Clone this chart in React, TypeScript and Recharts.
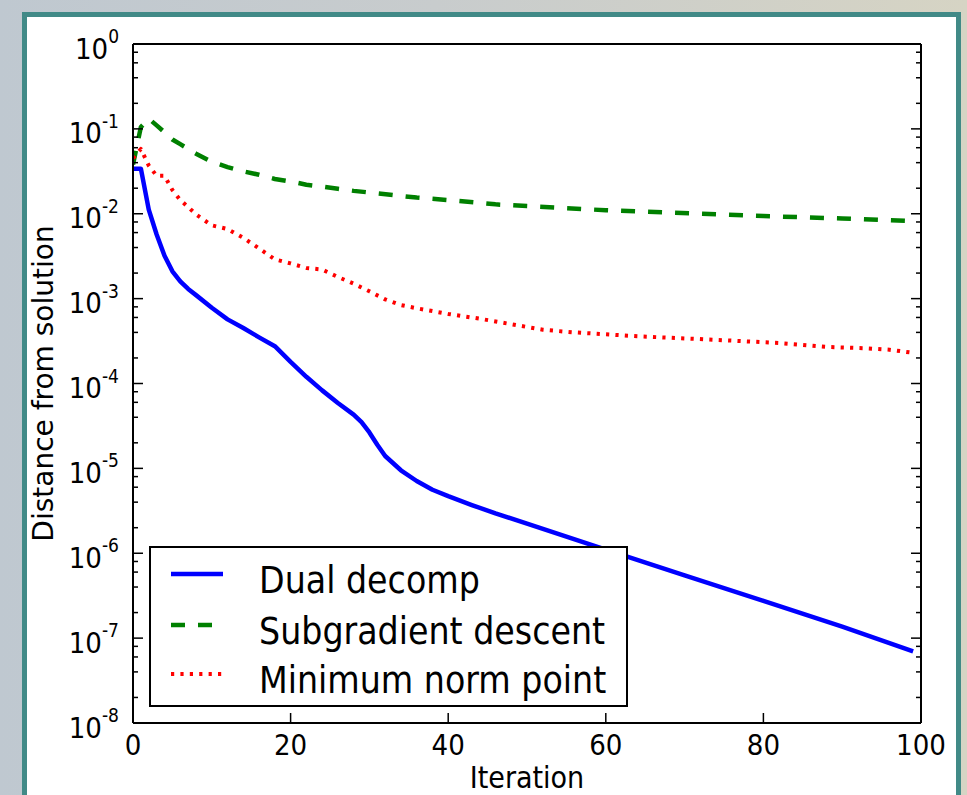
import { LineChart, Line, XAxis, YAxis, Legend, Label } from "recharts";

// Dual decomposition
const dualIter = [0, 1, 2, 3, 4, 5, 6, 7, 8, 10, 12, 14, 16, 18, 20, 22, 24, 26, 28, 29, 30, 31, 32, 34, 36, 38, 40, 43, 46, 50, 60, 70, 80, 90, 99];
const dualDist = [
  0.034, 0.034, 0.0112, 0.0057, 0.0032, 0.0021, 0.0016, 0.0013, 0.0011, 0.00078, 0.00057, 0.00045, 0.00035, 0.000275, 0.00018,
  0.00012, 0.000083, 0.000059, 0.000043, 0.000035, 0.0000265, 0.000019, 0.000014, 0.0000095, 0.0000071, 0.0000056, 0.0000047,
  0.0000037, 0.00000295, 0.00000224, 0.0000011, 0.00000055, 0.000000275, 0.000000137, 0.00000007,
];

// Subgradient descent
const subIter = [0, 1, 2, 3, 4, 5, 6, 7, 8, 10, 12, 14, 16, 18, 20, 22, 24, 26, 28, 30, 33, 36, 40, 46, 50, 60, 72, 80, 90, 99];
const subDist = [
  0.038, 0.105, 0.132, 0.11, 0.091, 0.075, 0.066, 0.058, 0.051, 0.041, 0.0355, 0.0316, 0.0288, 0.0257, 0.024, 0.022, 0.0209,
  0.0197, 0.0186, 0.0178, 0.0166, 0.0155, 0.0145, 0.0129, 0.0123, 0.011, 0.01, 0.0094, 0.0088, 0.0082,
];

// Minimum norm point
const mnpIter = [0, 1, 2, 3, 4, 5, 6, 7, 8, 10, 12, 14, 16, 18, 20, 22, 24, 26, 28, 30, 32, 34, 36, 40, 44, 48, 52, 56, 60, 64, 70, 76, 82, 88, 93, 96, 99];
const mnpDist = [
  0.045, 0.058, 0.037, 0.028, 0.028, 0.019, 0.0145, 0.012, 0.0098, 0.0073, 0.0066, 0.0052, 0.0039, 0.0029, 0.0026, 0.0023, 0.0022,
  0.0018, 0.0015, 0.00122, 0.00098, 0.00084, 0.00077, 0.00066, 0.00058, 0.0005, 0.00043, 0.0004, 0.00038, 0.00036, 0.00034,
  0.00032, 0.0003, 0.00027, 0.00026, 0.00025, 0.00023,
];

const xTicks = [0, 20, 40, 60, 80, 100];
const yMajor = [1e-8, 1e-7, 1e-6, 1e-5, 1e-4, 1e-3, 1e-2, 1e-1, 1];
const yMinorSubs = [2, 4, 6, 8];

const toRows = (it: number[], d: number[]) => it.map((x, i) => ({ it: x, v: d[i] }));

const SERIES = [
  { name: "Dual decomp", data: toRows(dualIter, dualDist), color: "#0000ff", width: 4.5, dash: undefined as string | undefined },
  { name: "Subgradient descent", data: toRows(subIter, subDist), color: "#008000", width: 4.5, dash: "14 13" },
  { name: "Minimum norm point", data: toRows(mnpIter, mnpDist), color: "#ff0000", width: 4, dash: "3.2 6.2" },
];

const yTicks = [
  ...yMajor,
  ...yMajor.slice(0, -1).flatMap((m) => yMinorSubs.map((s) => s * m)),
].sort((a, b) => a - b);

const W = 967;
const H = 795;
const PLOT_LEFT = 133;
const PLOT_RIGHT = 921;
const PLOT_TOP = 44;
const PLOT_BOTTOM = 723;

const TICK_FONT = '"DejaVu Sans Condensed", "DejaVu Sans", sans-serif';

const isMajor = (v: number) => {
  const l = Math.log10(v);
  return Math.abs(l - Math.round(l)) < 1e-6;
};

function LeftTick({ y, payload }: any) {
  const v = payload.value;
  const major = isMajor(v);
  return (
    <g>
      <line x1={PLOT_LEFT} x2={PLOT_LEFT + (major ? 10 : 5)} y1={y} y2={y} stroke="#000" strokeWidth={1.5} />
      {major && (
        <text x={119} y={y + 14.5} textAnchor="end" fill="#000" fontFamily={TICK_FONT} fontSize={29}>
          <tspan>10</tspan>
          <tspan dy={-15.5} fontSize={19}>
            {String(Math.round(Math.log10(v)))}
          </tspan>
        </text>
      )}
    </g>
  );
}

function RightTick({ y, payload }: any) {
  const major = isMajor(payload.value);
  return <line x1={PLOT_RIGHT} x2={PLOT_RIGHT - (major ? 10 : 5)} y1={y} y2={y} stroke="#000" strokeWidth={1.5} />;
}

function BottomTick({ x, payload }: any) {
  return (
    <g>
      <line x1={x} x2={x} y1={PLOT_BOTTOM} y2={PLOT_BOTTOM - 10} stroke="#000" strokeWidth={1.5} />
      <text x={x} y={PLOT_BOTTOM + 32} textAnchor="middle" fill="#000" fontFamily={TICK_FONT} fontSize={29}>
        {payload.value}
      </text>
    </g>
  );
}

function TopTick({ x }: any) {
  return <line x1={x} x2={x} y1={PLOT_TOP} y2={PLOT_TOP + 10} stroke="#000" strokeWidth={1.5} />;
}

// legend keeps the plotting order, not alphabetical
function LegendBox() {
  const rows = [28, 79, 128];
  return (
    <svg width={479} height={161} style={{ display: "block" }}>
      <rect x={1} y={1} width={477} height={159} fill="#fff" stroke="#000" strokeWidth={2} />
      {SERIES.map((s, i) => {
        const ly = rows[i];
        return (
          <g key={s.name}>
            <line x1={22} x2={74} y1={ly} y2={ly} stroke={s.color} strokeWidth={s.width} strokeDasharray={s.dash} />
            <text x={110} y={ly + 18.5} fill="#000" fontFamily={TICK_FONT} fontSize={37}>
              {s.name}
            </text>
          </g>
        );
      })}
    </svg>
  );
}

export default function App() {
  return (
    <div
      style={{
        position: "absolute",
        left: 0,
        top: 0,
        width: W,
        height: H,
        overflow: "hidden",
        background: "linear-gradient(90deg, #bfc8d0 0%, #c8cccd 45%, #d6d4c4 100%)",
      }}
    >
      <div
        style={{
          position: "absolute",
          left: 22,
          top: 12,
          width: 939,
          height: 820,
          boxSizing: "border-box",
          border: "5px solid #418a87",
          background: "#fff",
        }}
      />
      <div style={{ position: "absolute", left: 0, top: 0 }}>
        <LineChart width={W} height={H} margin={{ top: PLOT_TOP - 10, right: W - PLOT_RIGHT - 10, bottom: H - PLOT_BOTTOM - 60, left: PLOT_LEFT - 100 }}>
          <XAxis
            xAxisId="bottom"
            dataKey="it"
            type="number"
            domain={[0, 100]}
            ticks={xTicks}
            interval={0}
            height={60}
            tickLine={false}
            axisLine={{ stroke: "#000", strokeWidth: 2 }}
            tick={<BottomTick />}
            allowDataOverflow
          >
            <Label
              content={() => (
                <text x={(PLOT_LEFT + PLOT_RIGHT) / 2} y={788} textAnchor="middle" fill="#000" fontFamily={TICK_FONT} fontSize={30}>
                  Iteration
                </text>
              )}
            />
          </XAxis>
          <XAxis
            xAxisId="top"
            orientation="top"
            type="number"
            domain={[0, 100]}
            ticks={xTicks}
            interval={0}
            height={10}
            tickLine={false}
            axisLine={{ stroke: "#000", strokeWidth: 2 }}
            tick={<TopTick />}
            allowDataOverflow
          />
          <YAxis
            yAxisId="left"
            type="number"
            scale="log"
            domain={[1e-8, 1]}
            ticks={yTicks}
            interval={0}
            width={100}
            tickLine={false}
            axisLine={{ stroke: "#000", strokeWidth: 2 }}
            tick={<LeftTick />}
            allowDataOverflow
          >
            <Label
              content={() => (
                <text
                  x={53}
                  y={(PLOT_TOP + PLOT_BOTTOM) / 2}
                  transform={`rotate(-90 53 ${(PLOT_TOP + PLOT_BOTTOM) / 2})`}
                  textAnchor="middle"
                  fill="#000"
                  fontFamily='"DejaVu Sans", sans-serif'
                  fontSize={28}
                >
                  Distance from solution
                </text>
              )}
            />
          </YAxis>
          <YAxis
            yAxisId="right"
            orientation="right"
            type="number"
            scale="log"
            domain={[1e-8, 1]}
            ticks={yTicks}
            interval={0}
            width={10}
            tickLine={false}
            axisLine={{ stroke: "#000", strokeWidth: 2 }}
            tick={<RightTick />}
            allowDataOverflow
          />
          <Legend
            layout="vertical"
            align="center"
            verticalAlign="middle"
            wrapperStyle={{ left: 149, top: 546, width: 479, height: 161 }}
            content={() => <LegendBox />}
          />
          {SERIES.map((s) => (
            <Line
              key={s.name}
              name={s.name}
              data={s.data}
              dataKey="v"
              xAxisId="bottom"
              yAxisId="left"
              type="linear"
              stroke={s.color}
              strokeWidth={s.width}
              strokeDasharray={s.dash}
              strokeLinejoin="round"
              dot={false}
              activeDot={false}
              isAnimationActive={false}
            />
          ))}
        </LineChart>
      </div>
    </div>
  );
}
